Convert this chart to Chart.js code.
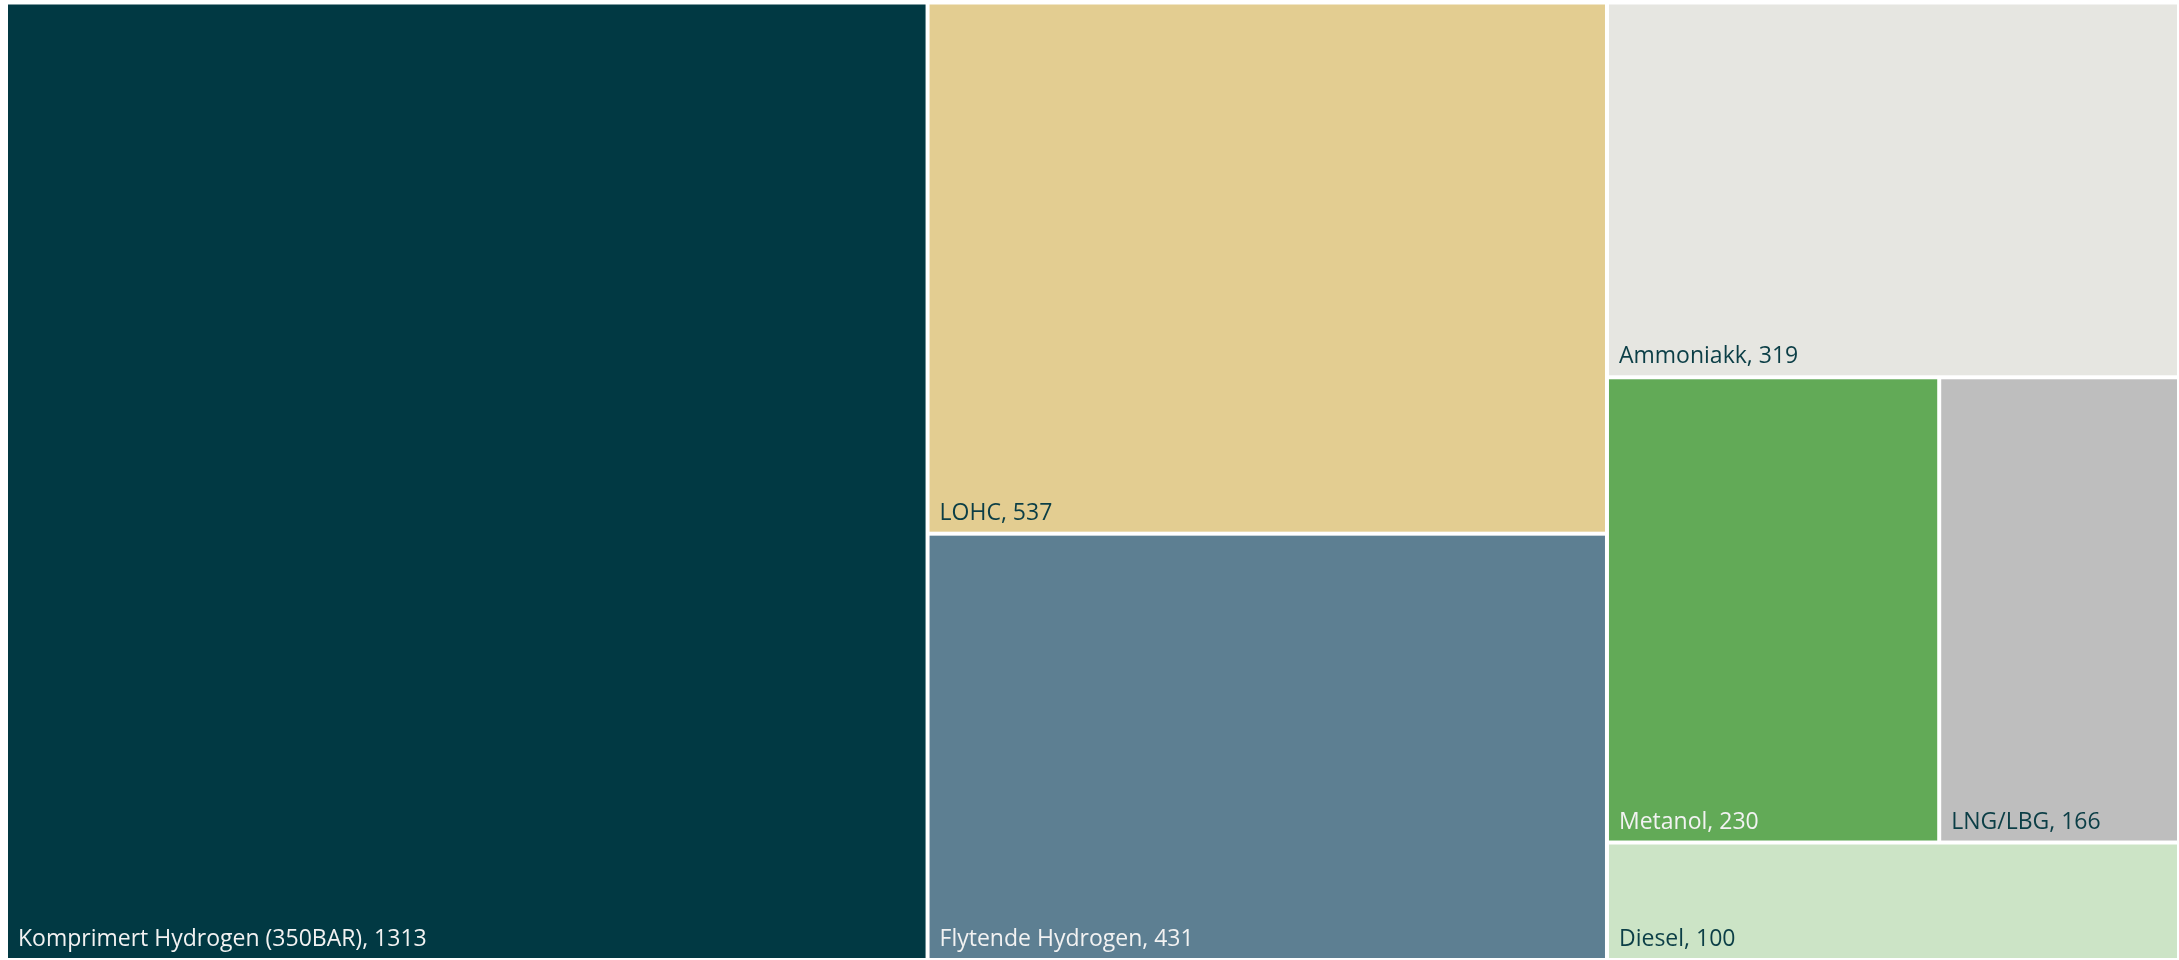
<!DOCTYPE html>
<html>
<head>
<meta charset="utf-8">
<script src="https://cdn.jsdelivr.net/npm/chart.js@4.4.1/dist/chart.umd.min.js"></script>
<style>
html, body { margin: 0; padding: 0; background: #fff; overflow: hidden; }
#wrap { width: 2179px; height: 960px; }
</style>
</head>
<body>
<div id="wrap"><canvas id="treeChart"></canvas></div>
<script>
// data
let categories = ['Komprimert Hydrogen (350BAR)', 'LOHC', 'Flytende Hydrogen', 'Ammoniakk', 'Metanol', 'LNG/LBG', 'Diesel'];
let values = [1313, 537, 431, 319, 230, 166, 100];

// styles
let cellColors = ['#013943', '#E3CD91', '#5D7F92', '#E6E6E1', '#62AA57', '#BEBEBE', '#CCE4C6'];
let textColors = ['#F2F2F2', '#0B3E46', '#F2F2F2', '#0B3E46', '#F2F2F2', '#0B3E46', '#0B3E46'];
let gap = 4;

// plain squarify (aspect target 1), in pixel proportions
function squarify(vals, x0, y0, x1, y1) {
    let rects = [];
    let total = vals.reduce((a, b) => a + b, 0);
    let i0 = 0, i1 = 0, n = vals.length;
    while (i0 < n) {
        let dx = x1 - x0, dy = y1 - y0;
        let sum = vals[i1++];
        let minV = sum, maxV = sum;
        let alpha = Math.max(dy / dx, dx / dy) / total;
        let beta = sum * sum * alpha;
        let minRatio = Math.max(maxV / beta, beta / minV);
        for (; i1 < n; ++i1) {
            let v = vals[i1];
            sum += v;
            if (v < minV) minV = v;
            if (v > maxV) maxV = v;
            beta = sum * sum * alpha;
            let newRatio = Math.max(maxV / beta, beta / minV);
            if (newRatio > minRatio) { sum -= v; break; }
            minRatio = newRatio;
        }
        if (dx < dy) {
            // row across the top
            let h = dy * sum / total;
            let x = x0;
            for (let i = i0; i < i1; i++) {
                let w = dx * vals[i] / sum;
                rects[i] = { x0: x, y0: y0, x1: x + w, y1: y0 + h };
                x += w;
            }
            y0 += h;
        } else {
            // column on the left
            let w = dx * sum / total;
            let y = y0;
            for (let i = i0; i < i1; i++) {
                let h = dy * vals[i] / sum;
                rects[i] = { x0: x0, y0: y, x1: x0 + w, y1: y + h };
                y += h;
            }
            x0 += w;
        }
        total -= sum;
        i0 = i1;
    }
    return rects;
}

const treemapPlugin = {
    id: 'treemapCells',
    afterDatasetsDraw(chart) {
        const { ctx, chartArea, scales } = chart;
        const W = chartArea.right - chartArea.left;
        const H = chartArea.bottom - chartArea.top;
        const rects = squarify(values, 0, 0, W, H);
        ctx.save();
        rects.forEach((r, i) => {
            // to scale units (0..1) then to pixels via the scales
            let left = scales.x.getPixelForValue(r.x0 / W);
            let right = scales.x.getPixelForValue(r.x1 / W);
            let top = scales.y.getPixelForValue(r.y0 / H);
            let bottom = scales.y.getPixelForValue(r.y1 / H);
            let fx = left + gap / 2, fy = top + gap / 2;
            let fw = right - left - gap, fh = bottom - top - gap;
            ctx.fillStyle = cellColors[i];
            ctx.fillRect(fx, fy, fw, fh);
            // label bottom-left
            ctx.fillStyle = textColors[i];
            ctx.font = '23px "Open Sans", sans-serif';
            ctx.textAlign = 'left';
            ctx.textBaseline = 'alphabetic';
            ctx.fillText(categories[i] + ', ' + values[i], fx + 10, Math.min(fy + fh, 960) - 12);
        });
        ctx.restore();
    }
};

let treeCtx = document.getElementById('treeChart').getContext('2d');
let treeChart = new Chart(treeCtx, {
    type: 'scatter',
    data: {
        datasets: [{ data: [] }]
    },
    options: {
        responsive: true,
        maintainAspectRatio: false,
        animation: false,
        layout: {
            padding: { left: 6, top: 2.5, right: -3, bottom: -2.5 }
        },
        scales: {
            x: { type: 'linear', min: 0, max: 1, display: false },
            y: { type: 'linear', min: 0, max: 1, reverse: true, display: false }
        },
        plugins: {
            legend: { display: false },
            tooltip: { enabled: false }
        }
    },
    plugins: [treemapPlugin]
});
</script>
</body>
</html>
